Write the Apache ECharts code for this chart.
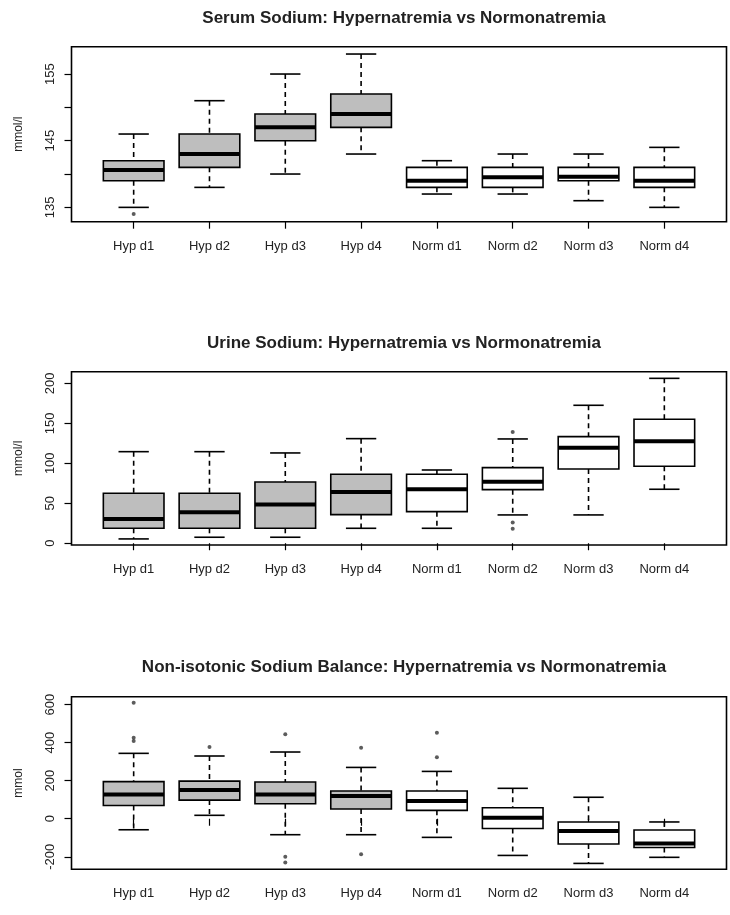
<!DOCTYPE html>
<html><head><meta charset="utf-8">
<script src="https://cdn.jsdelivr.net/npm/echarts@6/dist/echarts.min.js"></script>
<style>html,body{margin:0;padding:0;background:#fff}#c{width:730px;height:915px}</style>
</head><body><div id="c"></div>
<script>
const categories = ['Hyp d1','Hyp d2','Hyp d3','Hyp d4','Norm d1','Norm d2','Norm d3','Norm d4'];
// each row: [lower whisker, Q1, median, Q3, upper whisker]
const serumStats = [
  [135, 139, 140.6, 142, 146],
  [138, 141, 143, 146, 151],
  [140, 145, 147, 149, 155],
  [143, 147, 149, 152, 158],
  [137, 138, 139, 141, 142],
  [137, 138, 139.5, 141, 143],
  [136, 139, 139.6, 141, 143],
  [135, 138, 139, 141, 144]
];
const serumOutliers = [[0, 134]];
const urineStats = [
  [5.4, 18.7, 30.4, 62.5, 114.5],
  [7.5, 18.7, 38.7, 62.5, 114.5],
  [7.5, 18.7, 48.3, 76.6, 112.9],
  [18.7, 35.8, 64.1, 86.2, 130.8],
  [18.7, 39.5, 67.5, 86.2, 91.6],
  [35.4, 67, 77, 94.5, 130.4],
  [35.4, 92.9, 119.5, 133.3, 172.5],
  [67.5, 96.2, 127.5, 155, 206.2]
];
const urineOutliers = [[5, 139], [5, 26], [5, 18]];
const balanceStats = [
  [-58, 70, 128, 195, 344],
  [18, 98, 151, 198, 330],
  [-84, 79, 128, 193, 351],
  [-84, 51, 119, 146, 270],
  [-98, 44, 93, 146, 249],
  [-193, -51, 5, 58, 160],
  [-235, -133, -65, -17, 113],
  [-203, -151, -130, -59, -17]
];
const balanceOutliers = [[0, 610], [0, 426], [0, 409], [1, 377], [2, 444], [2, -200], [2, -230],
  [3, 374], [3, -187], [4, 453], [4, 323]];
const titles = ['Serum Sodium: Hypernatremia vs Normonatremia',
  'Urine Sodium: Hypernatremia vs Normonatremia',
  'Non-isotonic Sodium Balance: Hypernatremia vs Normonatremia'];
const yNames = ['mmol/l', 'mmol/l', 'mmol'];
const yTicks = [[135, 140, 145, 150, 155], [0, 50, 100, 150, 200], [-200, 0, 200, 400, 600]];
const yTickLabels = [[135, 145, 155], [0, 50, 100, 150, 200], [-200, 0, 200, 400, 600]];
const yRanges = [[132.85, 159.1], [-2.2, 214.5], [-266, 642]];

const panels = [
  {stats: serumStats, out: serumOutliers, top: 46.7, height: 175},
  {stats: urineStats, out: urineOutliers, top: 371.7, height: 173.3},
  {stats: balanceStats, out: balanceOutliers, top: 696.7, height: 172.6}
];
const titleTops = [5, 330, 654];

const FL = 71.5, FR = 726.5, W = 730;
const unit = (FR - FL) / 8.64;
const pad = 0.32 * unit;
const FONT = 'Liberation Sans, Arial, sans-serif';
const TXT = '#222';

function renderBox(params, api) {
  const idx = api.value(0);
  const lo = api.coord([idx, api.value(1)]);
  const q1 = api.coord([idx, api.value(2)]);
  const md = api.coord([idx, api.value(3)]);
  const q3 = api.coord([idx, api.value(4)]);
  const hi = api.coord([idx, api.value(5)]);
  const band = api.size([1, 0])[0];
  const bw = band * 0.8, cw = band * 0.4;
  const x = lo[0];
  const fill = idx < 4 ? '#bebebe' : '#ffffff';
  const solid = {stroke: '#000', lineWidth: 1.6};
  const dashed = {stroke: '#000', lineWidth: 1.6, lineDash: [5, 4]};
  return {type: 'group', children: [
    {type: 'line', shape: {x1: x, y1: hi[1], x2: x, y2: q3[1]}, style: dashed},
    {type: 'line', shape: {x1: x, y1: q1[1], x2: x, y2: lo[1]}, style: dashed},
    {type: 'line', shape: {x1: x - cw / 2, y1: hi[1], x2: x + cw / 2, y2: hi[1]}, style: solid},
    {type: 'line', shape: {x1: x - cw / 2, y1: lo[1], x2: x + cw / 2, y2: lo[1]}, style: solid},
    {type: 'rect', shape: {x: x - bw / 2, y: q3[1], width: bw, height: q1[1] - q3[1]},
      style: {fill: fill, stroke: '#000', lineWidth: 1.6}},
    {type: 'line', shape: {x1: x - bw / 2, y1: md[1], x2: x + bw / 2, y2: md[1]},
      style: {stroke: '#000', lineWidth: 4}}
  ]};
}

const grid = [], xAxis = [], yAxis = [], series = [], title = [];
panels.forEach((p, i) => {
  title.push({text: titles[i], left: (FL + FR) / 2, top: titleTops[i], textAlign: 'center',
    textStyle: {fontFamily: FONT, fontWeight: 'bold', fontSize: 17, color: TXT}});
  grid.push({left: FL, right: W - FR, top: p.top, height: p.height, show: true,
    borderColor: '#000', borderWidth: 1.6, backgroundColor: 'transparent'});
  grid.push({left: FL + pad, right: W - FR + pad, top: p.top, height: p.height});
  xAxis.push({gridIndex: 2 * i, type: 'value', min: 0, max: 1, show: false});
  yAxis.push({gridIndex: 2 * i, type: 'value', min: yRanges[i][0], max: yRanges[i][1],
    axisLine: {show: false}, splitLine: {show: false},
    axisTick: {show: true, length: 7, customValues: yTicks[i], lineStyle: {color: '#000', width: 1.2}},
    axisLabel: {rotate: 90, customValues: yTickLabels[i], margin: 15, color: TXT, fontSize: 13, fontFamily: FONT},
    name: yNames[i], nameLocation: 'middle', nameGap: 47,
    nameTextStyle: {color: TXT, fontSize: 12, fontFamily: FONT}});
  xAxis.push({gridIndex: 2 * i + 1, type: 'category', data: categories,
    axisLine: {show: false}, splitLine: {show: false},
    axisTick: {show: true, alignWithLabel: true, length: 7, lineStyle: {color: '#000', width: 1.2}},
    axisLabel: {interval: 0, margin: 18, color: TXT, fontSize: 13, fontFamily: FONT}});
  yAxis.push({gridIndex: 2 * i + 1, type: 'value', min: yRanges[i][0], max: yRanges[i][1], show: false});
  series.push({type: 'custom', xAxisIndex: 2 * i + 1, yAxisIndex: 2 * i + 1,
    renderItem: renderBox, encode: {x: 0, y: [1, 2, 3, 4, 5]},
    data: p.stats.map((s, k) => [k].concat(s)), silent: true});
  series.push({type: 'scatter', xAxisIndex: 2 * i + 1, yAxisIndex: 2 * i + 1,
    data: p.out, symbol: 'circle', symbolSize: 4, itemStyle: {color: '#333'}, silent: true});
});

const chart = echarts.init(document.getElementById('c'), null, {renderer: 'canvas'});
chart.setOption({animation: false, backgroundColor: '#fff', title, grid, xAxis, yAxis, series});
</script></body></html>
